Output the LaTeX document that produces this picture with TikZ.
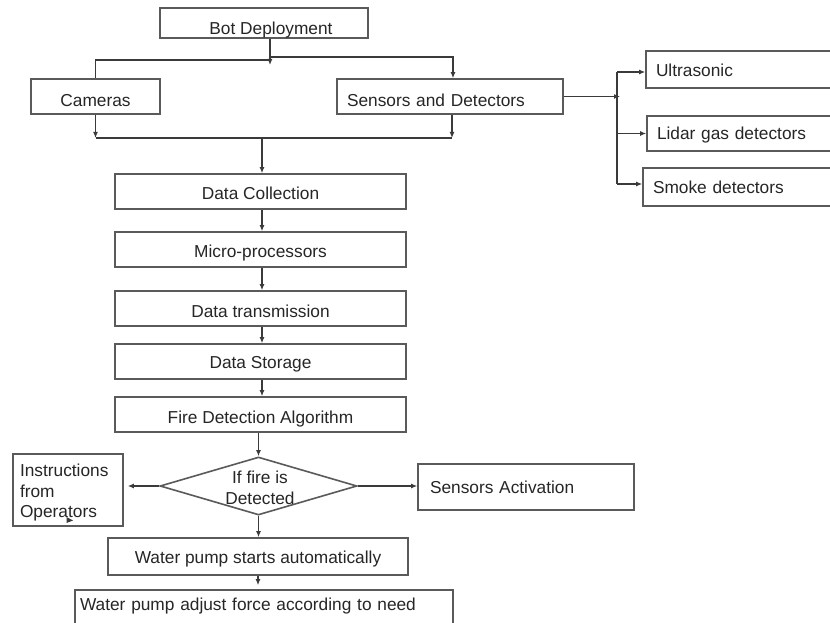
\documentclass[tikz,border=0pt]{standalone}
\usepackage{fontspec}
\setmainfont{Liberation Sans}
\usetikzlibrary{arrows.meta,shapes.geometric}
\definecolor{ln}{HTML}{3A3A3A}
\definecolor{bx}{HTML}{5A5A5A}
\definecolor{tx}{HTML}{262626}
\newcommand{\fs}{\fontsize{17.3}{20.5}\selectfont}
\begin{document}
\begin{tikzpicture}[x=1pt,y=-1pt,
  box/.style={draw=bx,line width=1.6pt,rectangle,inner sep=0pt,text=tx,font=\fs,text height=12.4pt,text depth=0pt},
  low/.style={text height=12.4pt+2*#1},
  lbox/.style={box,align=left},
  dia/.style={draw=bx,line width=1.6pt,diamond,inner sep=0pt,minimum width=197pt,minimum height=58pt},
  conn/.style={draw=ln,line width=1.3pt},
  arr/.style={conn,-{Latex[length=6pt,width=5pt]}}]
\useasboundingbox (0,0) rectangle (830,623);
\fill[white] (0,0) rectangle (830,623);
\clip (0,0) rectangle (830,623);

% nodes
\node[box,low=5pt,minimum width=208pt,minimum height=30pt] (bot) at (264,23) {\hspace*{14pt}Bot Deployment};
\node[box,low=4pt,minimum width=129pt,minimum height=35pt] (cam) at (95.5,96.5) {Cameras};
\node[lbox,low=4pt,minimum width=226pt,minimum height=35pt,text width=206pt] (sens) at (450,96.5) {Sensors and Detectors};
\node[lbox,low=1pt,minimum width=194pt,minimum height=37pt,text width=174pt] (ultra) at (743,69.5) {Ultrasonic};
\node[lbox,minimum width=193pt,minimum height=35pt,text width=173pt] (lidar) at (743.5,133.5) {Lidar gas detectors};
\node[lbox,minimum width=197pt,minimum height=38pt,text width=177pt] (smoke) at (741.5,187) {Smoke detectors};
\node[box,low=1.5pt,minimum width=291pt,minimum height=35pt] (dc) at (260.5,191.5) {Data Collection};
\node[box,low=1.5pt,minimum width=291pt,minimum height=35pt] (mp) at (260.5,249.5) {Micro-processors};
\node[box,low=2.5pt,minimum width=291pt,minimum height=35pt] (dt) at (260.5,308.5) {Data transmission};
\node[box,low=0.5pt,minimum width=291pt,minimum height=35pt] (ds) at (260.5,361.5) {Data Storage};
\node[box,low=3pt,minimum width=291pt,minimum height=35pt] (fda) at (260.5,414.5) {Fire Detection Algorithm};
\node[dia] (dec) at (258.5,486) {};
\node[text=tx,font=\fs,align=center,inner sep=0pt] (dect) at (260,488) {If fire is\\Detected};
\node[lbox,text height=,text depth=,minimum width=110pt,minimum height=72pt,text width=96pt] (instr) at (68,490) {\rule{0pt}{18.4pt}Instructions\\from\\Operators};
\node[lbox,minimum width=216pt,minimum height=46pt,text width=192pt] (sa) at (526,487) {Sensors Activation};
\node[box,low=1pt,minimum width=300pt,minimum height=37pt] (wps) at (258,556.5) {Water pump starts automatically};
\node[lbox,text depth=12pt,minimum width=378pt,minimum height=40pt,text width=368pt] (wpa) at (264,610) {Water pump adjust force according to need};

% coordinates
\coordinate (jb) at (270,65);
\coordinate (jl) at (270,60);
\coordinate (jr) at (270,57);
\coordinate (mrow) at (0,138);
\coordinate (mc) at (262,138);
\coordinate (fan) at (617,97);

% top split
\draw[arr] (bot.south -| jb) -- (jb);
\draw[conn] (jl) -| (cam.north);
\draw[arr] (jr) -| ([xshift=3pt]sens.north);

% merge
\draw[arr] (cam.south) -- (cam.south |- mrow);
\draw[arr] ([xshift=2pt]sens.south) -- ([xshift=2pt]sens.south |- mrow);
\draw[conn] (cam.south |- mrow) -- ([xshift=2pt]sens.south |- mrow);
\draw[arr,line width=2.2pt] (mc) -- (mc |- dc.north);

% sensors fan-out
\draw[arr] (sens.east) -- ([xshift=3pt]sens.east -| fan);
\draw[conn] ([yshift=-2.5pt]ultra.west -| fan) -- ([yshift=3pt]smoke.west -| fan);
\draw[arr] ([yshift=-2.5pt]ultra.west -| fan) -- ([yshift=-2.5pt]ultra.west);
\draw[arr] (lidar.west -| fan) -- (lidar.west);
\draw[arr] ([yshift=3pt]smoke.west -| fan) -- ([yshift=3pt]smoke.west);

% main chain
\draw[arr] (dc.south -| mc) -- (mc |- mp.north);
\draw[arr] (mp.south -| mc) -- (mc |- dt.north);
\draw[arr] (dt.south -| mc) -- (mc |- ds.north);
\draw[arr] (ds.south -| mc) -- (mc |- fda.north);
\draw[arr] (dec.north |- fda.south) -- (dec.north);

% decision
\draw[arr] (dec.west) -- ([xshift=4pt]dec.west -| instr.east);
\draw[arr] (dec.east) -- (dec.east -| sa.west);
\draw[arr] (dec.south) -- (dec.south |- wps.north);
\draw[arr] (wps.south) -- ([yshift=4pt]wps.south |- wpa.north);

% stray arrowhead in "Operators"
\fill[ln] (66.5,517) -- (73,520.5) -- (66.5,523) -- cycle;
\end{tikzpicture}
\end{document}
